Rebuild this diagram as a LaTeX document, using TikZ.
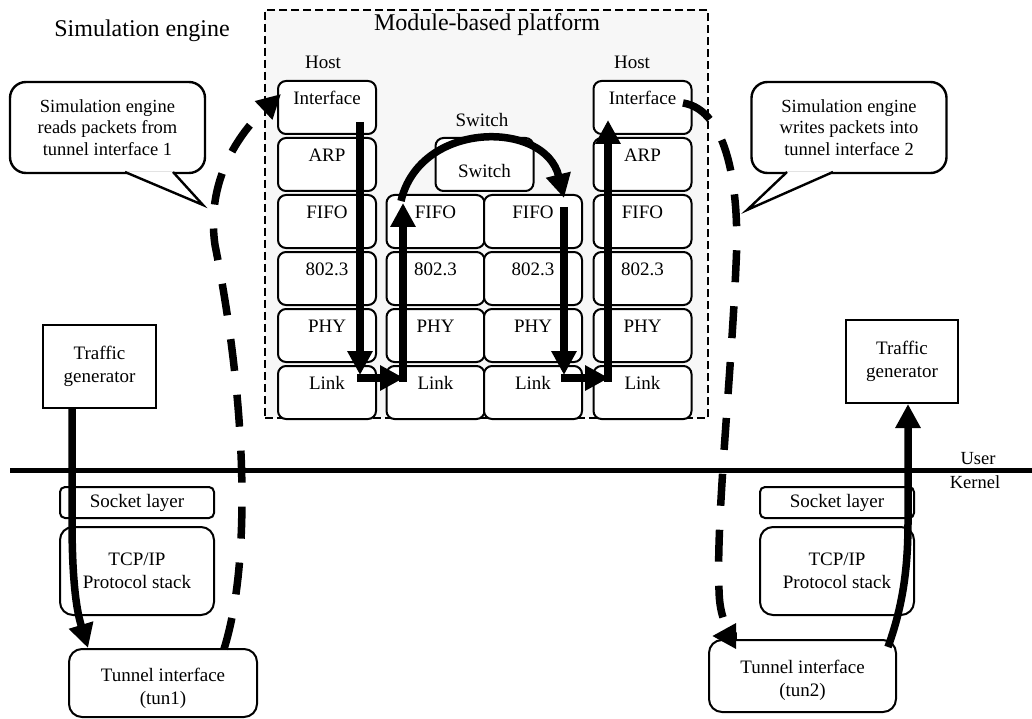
\documentclass[tikz,border=0pt]{standalone}
\usepackage{fontspec}
\setmainfont{Liberation Serif}
\usetikzlibrary{arrows.meta}
\newcommand\fsbox{\fontsize{19}{23}\selectfont}
\newcommand\fstitle{\fontsize{24}{28}\selectfont}
\newcommand\fscall{\fontsize{18.5}{21.5}\selectfont}
\begin{document}
\begin{tikzpicture}[x=1pt,y=-1pt,
  mbox/.style={draw, rounded corners=8pt, fill=white, line width=2pt, minimum width=98pt, inner sep=0pt, text height=23.5pt, text depth=29.5pt, font=\fsbox, anchor=north},
  swbox/.style={mbox, text height=39.5pt, text depth=13.5pt},
  lbl/.style={font=\fsbox, inner sep=0pt},
  ttl/.style={font=\fstitle, inner sep=0pt},
  plainbox/.style={draw, line width=2pt, fill=white, font=\fsbox, align=center, inner sep=0pt},
  callbox/.style={draw, line width=2.4pt, rounded corners=16pt, fill=white, font=\fscall, align=center, inner sep=0pt, minimum width=195pt, minimum height=91pt},
  tail/.style={fill=white, draw=black, line width=2.4pt, line join=miter},
  frame/.style={draw, dashed, dash pattern=on 8pt off 4pt, line width=1.6pt, fill=black!3, inner sep=0pt},
  thickarrow/.style={line width=7.5pt, -{Triangle[length=24pt,width=24pt]}},
  dasharrow/.style={line width=7.5pt, dash pattern=on 32pt off 24pt, -{Triangle[length=24pt,width=24pt]}},
]
\useasboundingbox (0,0) rectangle (1032,719);

% frame
\node[frame, minimum width=443pt, minimum height=408pt] (frame) at (486.5,214) {};
\node[ttl] (plat) at (487,25) {Module-based platform};
\node[ttl] (sim) at (142,31) {Simulation engine};
\node[lbl] (hostL) at (323,62) {Host};
\node[lbl] (hostR) at (632,62) {Host};
\node[lbl] (swlbl) at (482,120) {Switch};

% left host
\node[mbox] (hLi) at (327,80) {Interface};
\node[mbox] (hLa) at (327,137) {ARP};
\node[mbox] (hLf) at (327,194) {FIFO};
\node[mbox] (hLe) at (327,251) {802.3};
\node[mbox] (hLp) at (327,308) {PHY};
\node[mbox] (hLl) at (327,365) {Link};
% switch
\node[swbox] (sw) at (484.5,137) {Switch};
\node[mbox] (sLf) at (435.5,194) {FIFO};
\node[mbox] (sLe) at (435.5,251) {802.3};
\node[mbox] (sLp) at (435.5,308) {PHY};
\node[mbox] (sLl) at (435.5,365) {Link};
\node[mbox] (sRf) at (533,194) {FIFO};
\node[mbox] (sRe) at (533,251) {802.3};
\node[mbox] (sRp) at (533,308) {PHY};
\node[mbox] (sRl) at (533,365) {Link};
% right host
\node[mbox] (hRi) at (642.5,80) {Interface};
\node[mbox] (hRa) at (642.5,137) {ARP};
\node[mbox] (hRf) at (642.5,194) {FIFO};
\node[mbox] (hRe) at (642.5,251) {802.3};
\node[mbox] (hRp) at (642.5,308) {PHY};
\node[mbox] (hRl) at (642.5,365) {Link};

% callouts
\node[callbox] (cL) at (107.5,127.5) {Simulation engine\\reads packets from\\tunnel interface 1};
\filldraw[tail] (125,172) -- (203,205) -- (173,172);
\node[callbox] (cR) at (849,127.5) {Simulation engine\\writes packets into\\tunnel interface 2};
\filldraw[tail] (787,172) -- (747,210) -- (833,172);

% user/kernel line
\coordinate (uk1) at (10,470);
\coordinate (uk2) at (1032,470);
\draw[line width=5pt] (uk1) -- (uk2);
\node[font=\fscall, inner sep=0pt] (user) at (978,459) {User};
\node[font=\fscall, inner sep=0pt] (kern) at (975,482) {Kernel};

% lower boxes
\node[plainbox, minimum width=113pt, minimum height=83pt] (tgL) at (99.5,366.5) {Traffic\\generator};
\node[plainbox, minimum width=112pt, minimum height=83pt] (tgR) at (902,361.5) {Traffic\\generator};
\node[plainbox, rounded corners=5pt, minimum width=154pt, minimum height=31pt] (skL) at (137,502.5) {Socket layer};
\node[plainbox, rounded corners=5pt, minimum width=154pt, minimum height=31pt] (skR) at (837,502.5) {Socket layer};
\node[plainbox, rounded corners=13pt, minimum width=154pt, minimum height=88pt] (tcpL) at (137,571) {TCP/IP\\Protocol stack};
\node[plainbox, rounded corners=13pt, minimum width=154pt, minimum height=88pt] (tcpR) at (837,571) {TCP/IP\\Protocol stack};
\node[plainbox, rounded corners=13pt, minimum width=188pt, minimum height=68pt] (tun1) at (163,683) {};
\node[font=\fsbox, align=center, inner sep=0pt] (tun1t) at (163,688.5) {Tunnel interface\\(tun1)};
\node[plainbox, rounded corners=13pt, minimum width=187pt, minimum height=72pt] (tun2) at (802.5,676) {};
\node[font=\fsbox, align=center, inner sep=0pt] (tun2t) at (802.5,680) {Tunnel interface\\(tun2)};

% thick arrows in platform
\coordinate (a1s) at (360,122); \coordinate (a1e) at (360,375);
\coordinate (a2s) at (357,378); \coordinate (a2e) at (404,378);
\coordinate (a3s) at (403,382); \coordinate (a3e) at (403,203);
\coordinate (b0) at (401,201); \coordinate (b1) at (564,198);
\coordinate (a4s) at (564,207); \coordinate (a4e) at (564,375);
\coordinate (a5s) at (561,378); \coordinate (a5e) at (609,378);
\coordinate (a6s) at (608,382); \coordinate (a6e) at (608,120);
\draw[thickarrow] (a1s) -- (a1e);
\draw[thickarrow] (a2s) -- (a2e);
\draw[thickarrow] (a3s) -- (a3e);
\draw[thickarrow] (b0) .. controls (420,120) and (545,120) .. (b1);
\draw[thickarrow] (a4s) -- (a4e);
\draw[thickarrow] (a5s) -- (a5e);
\draw[thickarrow] (a6s) -- (a6e);

% kernel arrows
\coordinate (e1s) at (72,408); \coordinate (e1e) at (88,648);
\draw[thickarrow] (e1s) -- (72,520) .. controls (72,590) and (78,615) .. (e1e);
\coordinate (e2s) at (888,647); \coordinate (e2e) at (908,404);
\draw[thickarrow] (e2s) .. controls (905,600) and (908,560) .. (908,520) -- (e2e);

% dashed arrows
\coordinate (d1s) at (224,649); \coordinate (d1e) at (281,94);
\draw[dasharrow] (d1s) .. controls (252,560) and (246,400) .. (215,245) .. controls (205,175) and (245,128) .. (d1e);
\coordinate (d2s) at (683,103); \coordinate (d2e) at (712,636);
\draw[dasharrow] (d2s) .. controls (728,110) and (740,190) .. (736,265) .. controls (731,380) and (716,520) .. (719,590) .. controls (720,640) and (745,636) .. (d2e);
\end{tikzpicture}
\end{document}
